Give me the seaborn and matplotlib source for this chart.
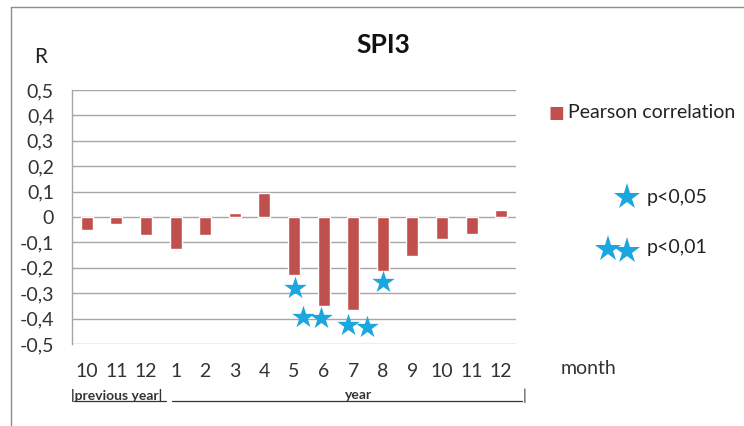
import numpy as np
import pandas as pd
import seaborn as sns
import matplotlib.pyplot as plt
from matplotlib.lines import Line2D

months = ['10', '11', '12', '1', '2', '3', '4', '5', '6', '7', '8', '9', '10', '11', '12']
pearson_r = [-0.053, -0.029, -0.072, -0.125, -0.071, 0.015, 0.095,
             -0.23, -0.35, -0.367, -0.214, -0.154, -0.085, -0.067, 0.029]

# star markers (month slot + small offset, R value)
star05_x = [7.03, 10.0]
star05_y = [-0.28, -0.256]
star01_x = [7.30, 7.91, 8.82, 9.47]
star01_y = [-0.394, -0.398, -0.425, -0.433]

y_ticks = [0.5, 0.4, 0.3, 0.2, 0.1, 0.0, -0.1, -0.2, -0.3, -0.4, -0.5]

bar_color = '#C0504D'
star_color = '#1AA7E0'
grid_color = '#A6A6A6'
txt = '#333333'

sns.set_style('white')
plt.rcParams['font.family'] = ['Lato', 'DejaVu Sans']

df = pd.DataFrame({'slot': range(len(months)), 'r': pearson_r})

fig = plt.figure(figsize=(7.44, 4.26), dpi=100)
ax = fig.add_axes([72 / 744, 1 - 344 / 426, 444 / 744, 254 / 426])

sns.barplot(data=df, x='slot', y='r', color=bar_color, width=0.4,
            saturation=1, ax=ax, zorder=3)
sns.scatterplot(x=star05_x + star01_x, y=star05_y + star01_y, marker='*',
                s=290, color=star_color, linewidth=0, ax=ax, zorder=4)

ax.set_xlim(-0.5, len(months) - 0.5)
ax.set_ylim(-0.5, 0.5)
ax.set_yticks(y_ticks)
ax.set_yticklabels(['0' if v == 0 else f'{v:.1f}'.replace('.', ',') for v in y_ticks])
ax.set_xticks(range(len(months)))
ax.set_xticklabels(months)
ax.set_xlabel('')
ax.set_ylabel('')
ax.tick_params(axis='y', length=0, pad=13, labelsize=14, colors=txt)
ax.tick_params(axis='x', length=0, pad=14, labelsize=14, colors=txt)
for v in y_ticks:
    ax.axhline(v, color=grid_color, lw=1, zorder=1)
for s in ['top', 'right', 'bottom']:
    ax.spines[s].set_visible(False)
ax.spines['left'].set_color(grid_color)
ax.spines['left'].set_linewidth(1)

# outer frame (top and left edges)
fig.add_artist(Line2D([11 / 744, 1], [1 - 7 / 426, 1 - 7 / 426], color='#8C8C8C', lw=1))
fig.add_artist(Line2D([11 / 744, 11 / 744], [0, 1 - 7 / 426], color='#8C8C8C', lw=1))

fig.text(383 / 744, 1 - 45 / 426, 'SPI3', fontsize=19, fontweight='bold',
         ha='center', va='center', color='#111111')
fig.text(41 / 744, 1 - 57 / 426, 'R', fontsize=15, ha='center', va='center', color='#222222')
fig.text(589 / 744, 1 - 368 / 426, 'month', fontsize=14, ha='center', va='center', color=txt)

# legend
fig.text(556 / 744, 1 - 113 / 426, '\u25A0', fontsize=12, ha='center', va='center',
         color=bar_color, family='DejaVu Sans')
fig.text(568 / 744, 1 - 112 / 426, 'Pearson correlation', fontsize=14,
         ha='left', va='center', color='#222222')
fig.add_artist(Line2D([627 / 744], [1 - 197 / 426], marker='*', markersize=20,
                      color=star_color, markeredgewidth=0, linestyle='none'))
fig.text(647 / 744, 1 - 197 / 426, 'p<0,05', fontsize=14, ha='left', va='center', color='#222222')
fig.add_artist(Line2D([608 / 744, 627 / 744], [1 - 249 / 426, 1 - 251 / 426], marker='*',
                      markersize=20, color=star_color, markeredgewidth=0, linestyle='none'))
fig.text(647 / 744, 1 - 248 / 426, 'p<0,01', fontsize=14, ha='left', va='center', color='#222222')

# previous year / year annotation
fig.text(71 / 744, 1 - 395 / 426, '|previous year|', fontsize=10, fontweight='bold',
         ha='left', va='center', color=txt)
fig.add_artist(Line2D([74 / 744, 166 / 744], [1 - 401 / 426] * 2, color=txt, lw=0.9))
fig.add_artist(Line2D([172 / 744, 522 / 744], [1 - 401 / 426] * 2, color=txt, lw=0.9))
fig.text(359 / 744, 1 - 395 / 426, 'year', fontsize=10, fontweight='bold',
         ha='center', va='center', color=txt)
fig.text(525 / 744, 1 - 396 / 426, '|', fontsize=11, ha='center', va='center', color=txt)

fig.savefig('out.png', dpi=100)
